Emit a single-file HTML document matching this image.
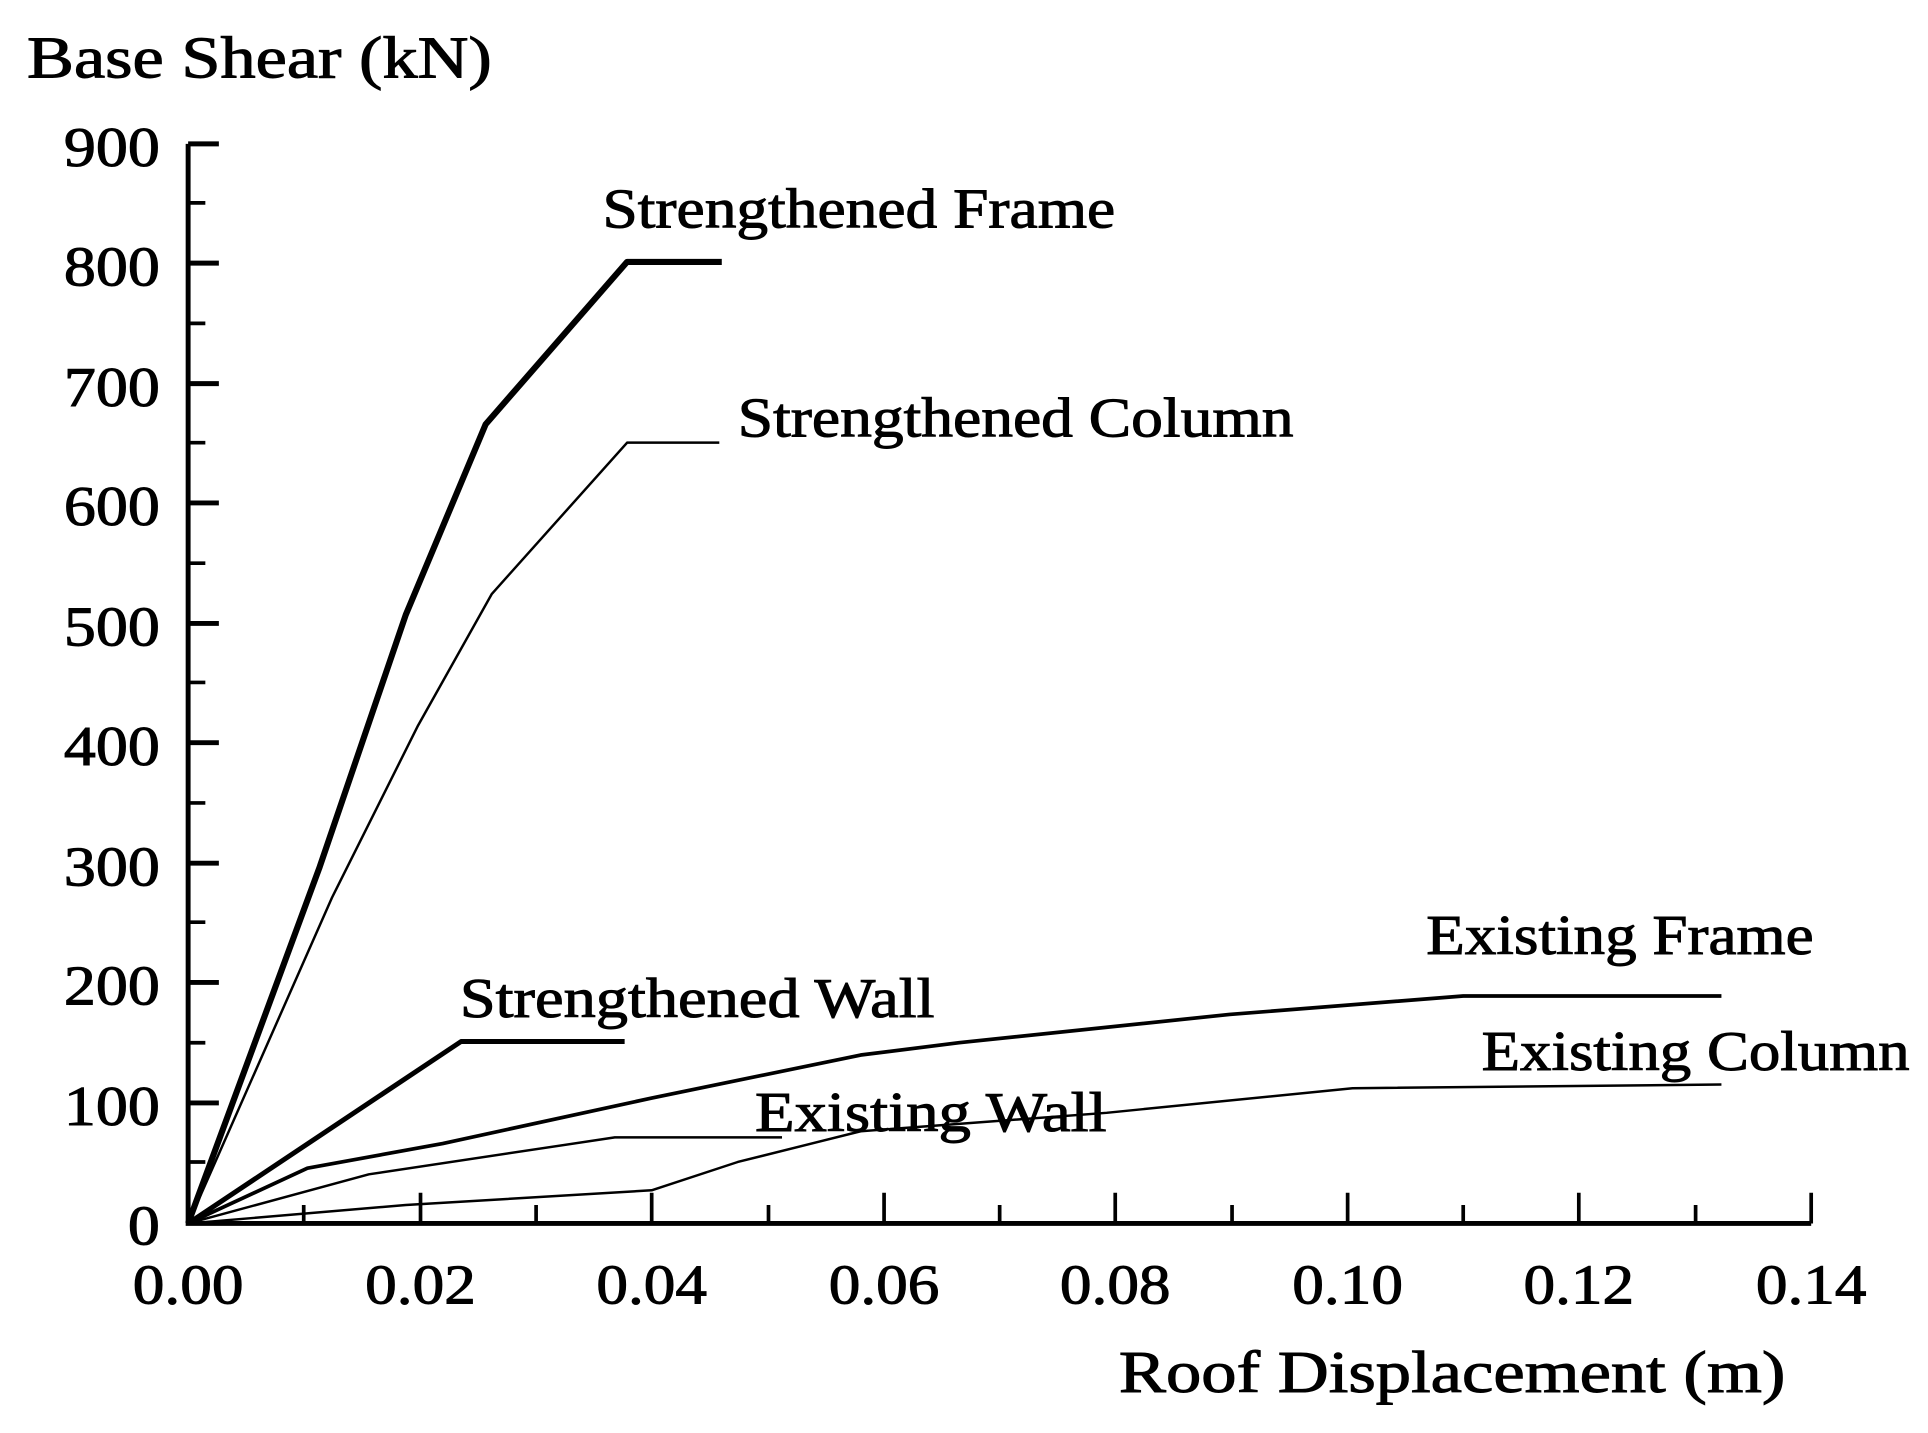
<!DOCTYPE html>
<html><head><style>html,body{margin:0;padding:0;background:#fff;}svg{display:block}</style></head>
<body>
<svg width="1928" height="1433" viewBox="0 0 1568 1165.4" preserveAspectRatio="none" xmlns="http://www.w3.org/2000/svg" font-family="Liberation Serif, serif" fill="#000">
<g stroke="#000" stroke-width="0.8">
<text x="22" y="63" font-size="48" textLength="378" lengthAdjust="spacingAndGlyphs">Base Shear (kN)</text>
<g font-size="46">
<text x="52" y="135" textLength="78" lengthAdjust="spacingAndGlyphs">900</text>
<text x="52" y="232" textLength="78" lengthAdjust="spacingAndGlyphs">800</text>
<text x="52" y="330" textLength="78" lengthAdjust="spacingAndGlyphs">700</text>
<text x="52" y="427" textLength="78" lengthAdjust="spacingAndGlyphs">600</text>
<text x="52" y="525" textLength="78" lengthAdjust="spacingAndGlyphs">500</text>
<text x="52" y="622" textLength="78" lengthAdjust="spacingAndGlyphs">400</text>
<text x="52" y="720" textLength="78" lengthAdjust="spacingAndGlyphs">300</text>
<text x="52" y="817" textLength="78" lengthAdjust="spacingAndGlyphs">200</text>
<text x="52" y="915" textLength="78" lengthAdjust="spacingAndGlyphs">100</text>
<text x="104" y="1012" textLength="26" lengthAdjust="spacingAndGlyphs">0</text>
</g>
<g font-size="46">
<text x="108" y="1060" textLength="90" lengthAdjust="spacingAndGlyphs">0.00</text>
<text x="297" y="1060" textLength="90" lengthAdjust="spacingAndGlyphs">0.02</text>
<text x="485" y="1060" textLength="90" lengthAdjust="spacingAndGlyphs">0.04</text>
<text x="674" y="1060" textLength="90" lengthAdjust="spacingAndGlyphs">0.06</text>
<text x="862" y="1060" textLength="90" lengthAdjust="spacingAndGlyphs">0.08</text>
<text x="1051" y="1060" textLength="90" lengthAdjust="spacingAndGlyphs">0.10</text>
<text x="1239" y="1060" textLength="90" lengthAdjust="spacingAndGlyphs">0.12</text>
<text x="1428" y="1060" textLength="90" lengthAdjust="spacingAndGlyphs">0.14</text>
</g>
<text x="910" y="1132" font-size="48" textLength="542" lengthAdjust="spacingAndGlyphs">Roof Displacement (m)</text>
<g font-size="46">
<text x="490" y="185" textLength="417" lengthAdjust="spacingAndGlyphs">Strengthened Frame</text>
<text x="600" y="355" textLength="452" lengthAdjust="spacingAndGlyphs">Strengthened Column</text>
<text x="374" y="827" textLength="386" lengthAdjust="spacingAndGlyphs">Strengthened Wall</text>
<text x="1160" y="776" textLength="315" lengthAdjust="spacingAndGlyphs">Existing Frame</text>
<text x="1205" y="870" textLength="348" lengthAdjust="spacingAndGlyphs">Existing Column</text>
<text x="614" y="920" textLength="286" lengthAdjust="spacingAndGlyphs">Existing Wall</text>
</g>
</g>
<g stroke="#000" stroke-width="4" fill="none">
<path d="M153,117 V995 H1473"/>
<path d="M153,117h25M153,214h25M153,312h25M153,409h25M153,507h25M153,604h25M153,702h25M153,799h25M153,897h25"/>
<path d="M153,165h14M153,263h14M153,360h14M153,458h14M153,555h14M153,653h14M153,750h14M153,848h14M153,945h14" stroke-width="3"/>
<path d="M342,995v-25M530,995v-25M719,995v-25M907,995v-25M1096,995v-25M1284,995v-25M1473,995v-25" stroke-width="3"/>
<path d="M247,995v-15M436,995v-15M625,995v-15M813,995v-15M1002,995v-15M1190,995v-15M1379,995v-15" stroke-width="3"/>
</g>
<g fill="none" stroke="#000" stroke-linejoin="round">
<path d="M153,995 L260,705 L330,500 L395,345 L510,213 L587,213" stroke-width="5"/>
<path d="M153,995 L270,730 L340,590 L400,483 L510,360 L585,360" stroke-width="2"/>
<path d="M153,995 L375,847 L508,847" stroke-width="4"/>
<path d="M153,995 L250,950 L360,930 L530,893 L700,858 L780,848 L1000,825 L1190,810 L1400,810" stroke-width="3"/>
<path d="M153,995 L300,955 L500,925 L636,925" stroke-width="2"/>
<path d="M153,995 L330,980 L530,968 L600,945 L700,920 L900,905 L1100,885 L1400,882" stroke-width="2"/>
</g>
</svg>
</body></html>
